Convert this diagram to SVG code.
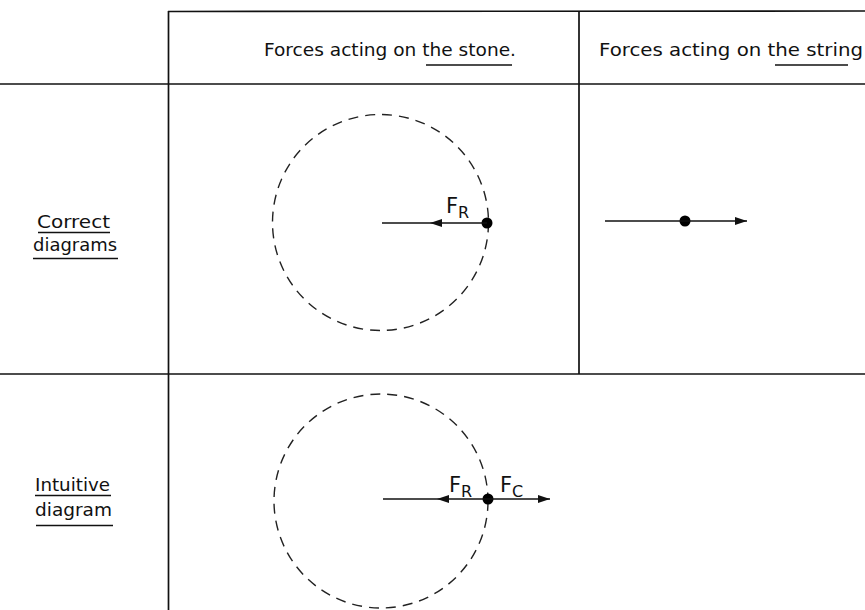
<svg xmlns="http://www.w3.org/2000/svg" width="865" height="610" viewBox="0 0 865 610">
<style>
.rule{stroke:#111;stroke-width:1.7;fill:none}
.ul{stroke:#111;stroke-width:1.6;fill:none}
.t{font-family:"DejaVu Sans","Liberation Sans",sans-serif;fill:#111}
.h{font-size:17px}
.lab{font-size:18px}
.f{font-size:21px}
.sub{font-size:16px}
.orbit{stroke:#222;stroke-width:1.4;fill:none;stroke-dasharray:10 7}
.vec{stroke:#111;stroke-width:1.7;fill:none}
.dot{fill:#000}
</style>
<defs>
<marker id="ah" viewBox="0 0 12 8" refX="12" refY="4" markerWidth="12" markerHeight="8" orient="auto" markerUnits="userSpaceOnUse"><path d="M0,0 L12,4 L0,8 z" fill="#111"/></marker>
</defs>
<rect width="865" height="610" fill="#fff"/>
<g id="table">
<line class="rule" x1="168" y1="11.5" x2="865" y2="11"/>
<line class="rule" x1="0" y1="84" x2="865" y2="84"/>
<line class="rule" x1="0" y1="374" x2="865" y2="374"/>
<line class="rule" x1="168.5" y1="11" x2="168.5" y2="610"/>
<line class="rule" x1="579" y1="11" x2="579" y2="374"/>
</g>
<g id="header-stone">
<text class="t h" x="264" y="56" textLength="252" lengthAdjust="spacingAndGlyphs">Forces acting on the stone.</text>
<line class="ul" x1="426" y1="65" x2="512" y2="65"/>
</g>
<g id="header-string">
<text class="t h" x="599" y="56" textLength="264" lengthAdjust="spacingAndGlyphs">Forces acting on the string</text>
<line class="ul" x1="775" y1="65" x2="848" y2="65"/>
</g>
<g id="label-correct">
<text class="t lab" x="37" y="228" textLength="73" lengthAdjust="spacingAndGlyphs">Correct</text>
<line class="ul" x1="38" y1="232.5" x2="110" y2="232.5"/>
<text class="t lab" x="33" y="251" textLength="84" lengthAdjust="spacingAndGlyphs">diagrams</text>
<line class="ul" x1="33" y1="258.5" x2="118" y2="258.5"/>
</g>
<g id="label-intuitive">
<text class="t lab" x="35" y="491" textLength="75" lengthAdjust="spacingAndGlyphs">Intuitive</text>
<line class="ul" x1="35" y1="495.5" x2="111" y2="495.5"/>
<text class="t lab" x="35" y="516" textLength="77" lengthAdjust="spacingAndGlyphs">diagram</text>
<line class="ul" x1="36" y1="525.5" x2="113" y2="525.5"/>
</g>
<g id="stone-correct">
<circle class="orbit" cx="380.5" cy="222.5" r="108"/>
<circle class="dot" cx="487" cy="223" r="5.5"/>
<text class="t f" x="446" y="213">F<tspan class="sub" dy="5">R</tspan></text>
</g>
<g id="string-correct">
<circle class="dot" cx="685" cy="221" r="5.5"/>
</g>
<g id="stone-intuitive">
<circle class="orbit" cx="381" cy="501" r="107"/>
<circle class="dot" cx="488" cy="499" r="5.5"/>
<text class="t f" x="449" y="492">F<tspan class="sub" dy="5">R</tspan></text>
<text class="t f" x="500" y="492">F<tspan class="sub" dy="5">C</tspan></text>
</g>
<g id="connectors">
<line class="vec" x1="487" y1="223" x2="430" y2="223" marker-end="url(#ah)"/>
<line class="vec" x1="430" y1="223" x2="382" y2="223"/>
<line class="vec" x1="605" y1="221" x2="747" y2="221" marker-end="url(#ah)"/>
<line class="vec" x1="488" y1="499" x2="437" y2="499" marker-end="url(#ah)"/>
<line class="vec" x1="437" y1="499" x2="383" y2="499"/>
<line class="vec" x1="488" y1="499" x2="550" y2="499" marker-end="url(#ah)"/>
</g>
</svg>
